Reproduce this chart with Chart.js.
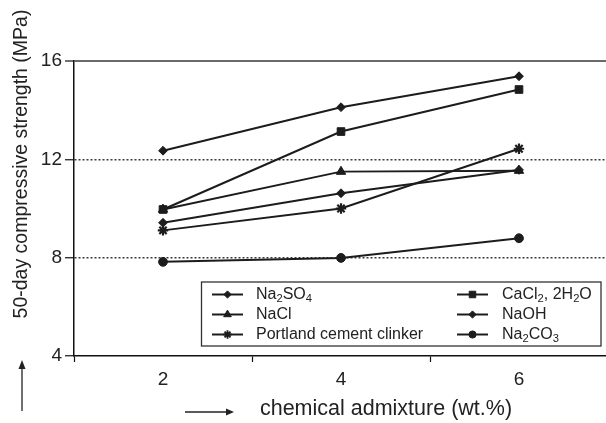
<!DOCTYPE html>
<html>
<head>
<meta charset="utf-8">
<script src="https://cdn.jsdelivr.net/npm/chart.js@4/dist/chart.umd.min.js"></script>
<style>
  html, body { margin: 0; padding: 0; background: #fff; overflow: hidden; }
  canvas { display: block; }
</style>
</head>
<body>
<canvas id="c" width="608" height="423"></canvas>
<script>
// Admixture dosage (wt.%) and 50-day compressive strength (MPa) per admixture
const dosages = ['2', '4', '6'];
const na2so4  = [12.35, 14.12, 15.38];
const cacl2   = [9.96, 13.13, 14.84];
const nacl    = [9.96, 11.50, 11.54];
const naoh    = [9.42, 10.62, 11.57];
const clinker = [9.11, 10.00, 12.43];
const na2co3  = [7.83, 7.99, 8.79];

const seriesNames  = ['Na₂SO₄', 'CaCl₂, 2H₂O', 'NaCl', 'NaOH', 'Portland cement clinker', 'Na₂CO₃'];
const seriesValues = [na2so4, cacl2, nacl, naoh, clinker, na2co3];
const seriesMarks  = ['rectRot', 'rect', 'triangle', 'rectRot', 'star', 'circle'];
const markRadius   = [4.4, 5.4, 5.4, 4.4, 5.2, 4.4];
const legendRadius = [3.6, 4.6, 4.4, 3.6, 4.2, 3.6];

const yTicks = [4, 8, 12, 16];
const yTitle = '50-day compressive strength (MPa)';
const xTitle = 'chemical admixture (wt.%)';

const FONT = '"Liberation Sans", Arial, Helvetica, sans-serif';
const INK = '#1c1c1c';

const datasets = seriesValues.map((vals, i) => ({
  label: seriesNames[i],
  data: vals,
  borderColor: INK,
  backgroundColor: INK,
  borderWidth: 2,
  pointStyle: seriesMarks[i],
  pointRadius: markRadius[i],
  pointBorderWidth: seriesMarks[i] === 'star' ? 2.2 : 1,
  pointBackgroundColor: INK,
  pointBorderColor: INK,
  tension: 0,
  fill: false
}));

// Draw text, rendering Unicode subscript digits as small lowered glyphs
const SUB = { '₀':'0','₁':'1','₂':'2','₃':'3','₄':'4','₅':'5','₆':'6','₇':'7','₈':'8','₉':'9' };
function drawRichText(ctx, text, x, y, size) {
  let cx = x;
  for (const ch of text) {
    if (SUB[ch]) {
      ctx.font = (size * 0.7) + 'px ' + FONT;
      ctx.fillText(SUB[ch], cx, y + size * 0.28);
      cx += ctx.measureText(SUB[ch]).width;
    } else {
      ctx.font = size + 'px ' + FONT;
      ctx.fillText(ch, cx, y);
      cx += ctx.measureText(ch).width;
    }
  }
}

function marker(ctx, style, r, x, y) {
  ctx.save();
  ctx.fillStyle = INK;
  ctx.strokeStyle = INK;
  ctx.lineWidth = style === 'star' ? 1.8 : 1;
  if (Chart.helpers && Chart.helpers.drawPoint) {
    Chart.helpers.drawPoint(ctx, { pointStyle: style, radius: r, rotation: 0, borderWidth: ctx.lineWidth }, x, y);
  } else {
    ctx.beginPath(); ctx.arc(x, y, r, 0, Math.PI * 2); ctx.fill();
  }
  ctx.restore();
}

// Boxed two-column legend inside the plot
const boxLegend = {
  id: 'boxLegend',
  afterDatasetsDraw(chart) {
    const ctx = chart.ctx;
    const left = 201.5, top = 282, right = 601, bottom = 346;
    ctx.save();
    ctx.fillStyle = '#fff';
    ctx.fillRect(left, top, right - left, bottom - top);
    ctx.strokeStyle = '#333';
    ctx.lineWidth = 1.3;
    ctx.strokeRect(left, top, right - left, bottom - top);
    const cols = [{ l0: 212, l1: 243, tx: 256 }, { l0: 457, l1: 488, tx: 502 }];
    const rows = [294.5, 314.5, 334.5];
    chart.data.datasets.forEach((ds, i) => {
      const c = cols[i % 2];
      const y = rows[Math.floor(i / 2)];
      ctx.strokeStyle = INK;
      ctx.lineWidth = 2;
      ctx.beginPath();
      ctx.moveTo(c.l0, y);
      ctx.lineTo(c.l1, y);
      ctx.stroke();
      marker(ctx, seriesMarks[i], legendRadius[i], (c.l0 + c.l1) / 2, y);
      ctx.fillStyle = '#222';
      ctx.textBaseline = 'middle';
      ctx.textAlign = 'left';
      drawRichText(ctx, ds.label, c.tx, y, 16);
    });
    ctx.restore();
  }
};

// Axis titles with their direction arrows
const axisTitles = {
  id: 'axisTitles',
  afterDraw(chart) {
    const ctx = chart.ctx;
    ctx.save();
    ctx.fillStyle = '#222';
    ctx.strokeStyle = '#222';
    ctx.textBaseline = 'middle';
    ctx.textAlign = 'center';

    ctx.save();
    ctx.translate(22, 164);
    ctx.rotate(-Math.PI / 2);
    ctx.font = '19.5px ' + FONT;
    ctx.fillText(yTitle, 0, 0);
    ctx.restore();

    ctx.font = '21.5px ' + FONT;
    ctx.fillText(xTitle, 386, 409);

    ctx.lineWidth = 1.3;
    // horizontal arrow
    ctx.beginPath(); ctx.moveTo(185, 412); ctx.lineTo(227, 412); ctx.stroke();
    ctx.beginPath(); ctx.moveTo(234, 412); ctx.lineTo(226, 408.5); ctx.lineTo(226, 415.5); ctx.closePath(); ctx.fill();
    // vertical arrow
    ctx.beginPath(); ctx.moveTo(22, 411); ctx.lineTo(22, 368); ctx.stroke();
    ctx.beginPath(); ctx.moveTo(22, 360); ctx.lineTo(18.5, 369); ctx.lineTo(25.5, 369); ctx.closePath(); ctx.fill();
    ctx.restore();
  }
};

new Chart(document.getElementById('c'), {
  type: 'line',
  data: { labels: dosages, datasets },
  options: {
    responsive: false,
    animation: false,
    devicePixelRatio: 1,
    layout: { autoPadding: false, padding: { top: 61, left: 0, right: 0, bottom: 0 } },
    plugins: { legend: { display: false }, tooltip: { enabled: false } },
    scales: {
      x: {
        type: 'category',
        offset: true,
        grid: {
          offset: true,
          drawOnChartArea: false,
          drawTicks: true,
          tickLength: 6,
          tickColor: '#111',
          tickWidth: 1.2
        },
        border: { color: '#111', width: 1.5 },
        ticks: { color: '#222', font: { family: FONT, size: 19 }, padding: 6, maxRotation: 0 },
        afterFit(s) { s.height = 67; }
      },
      y: {
        min: 4,
        max: 16,
        afterBuildTicks(s) { s.ticks = yTicks.map(v => ({ value: v })); },
        grid: {
          color: c => c.tick && c.tick.value === 16 ? '#6a6a6a' : (c.tick && c.tick.value === 4 ? 'rgba(0,0,0,0)' : '#3a3a3a'),
          lineWidth: c => c.tick && c.tick.value === 16 ? 2 : 1.5,
          drawTicks: true,
          tickLength: 9,
          tickColor: '#111',
          tickWidth: 1.2,
          tickBorderDash: []
        },
        border: {
          color: '#111',
          width: 1.5,
          dash: c => (c.tick && (c.tick.value === 8 || c.tick.value === 12)) ? [2, 2] : []
        },
        ticks: { color: '#222', font: { family: FONT, size: 19 }, padding: 3 },
        afterFit(s) { s.width = 74; }
      }
    }
  },
  plugins: [boxLegend, axisTitles]
});
</script>
</body>
</html>
